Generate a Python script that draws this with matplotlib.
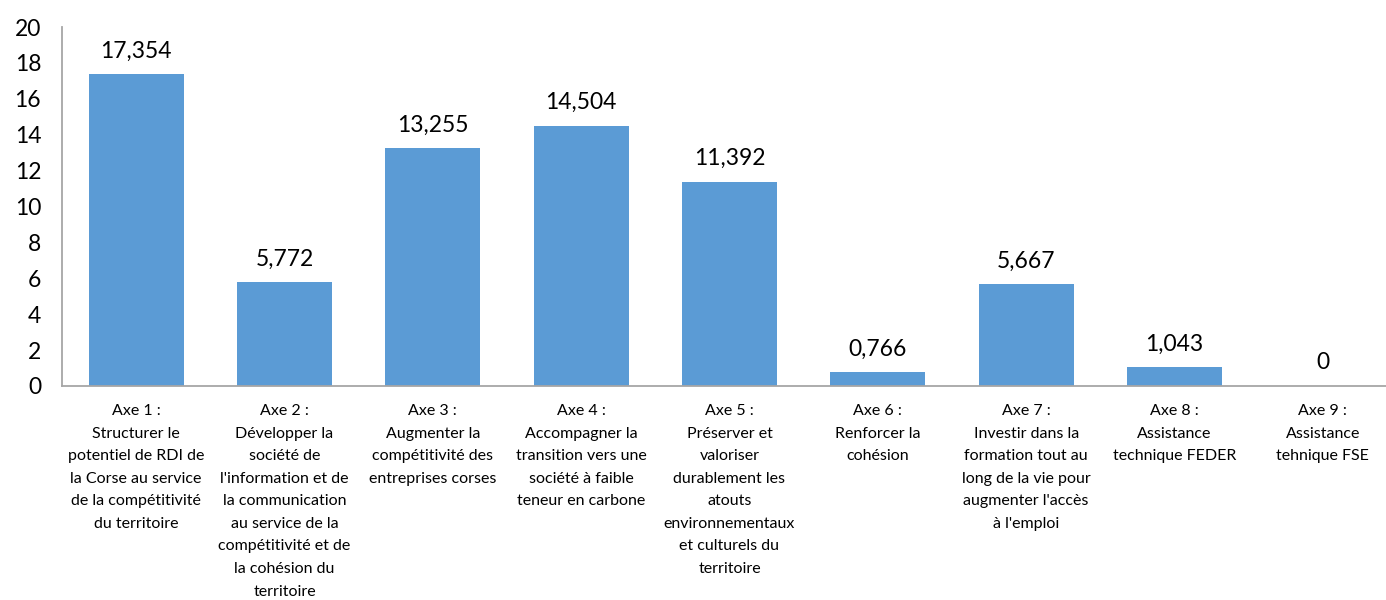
import matplotlib
matplotlib.use("Agg")
import matplotlib.pyplot as plt

categories = [
    "Axe 1 :\nStructurer le\npotentiel de RDI de\nla Corse au service\nde la compétitivité\ndu territoire",
    "Axe 2 :\nDévelopper la\nsociété de\nl'information et de\nla communication\nau service de la\ncompétitivité et de\nla cohésion du\nterritoire",
    "Axe 3 :\nAugmenter la\ncompétitivité des\nentreprises corses",
    "Axe 4 :\nAccompagner la\ntransition vers une\nsociété à faible\nteneur en carbone",
    "Axe 5 :\nPréserver et\nvaloriser\ndurablement les\natouts\nenvironnementaux\net culturels du\nterritoire",
    "Axe 6 :\nRenforcer la\ncohésion",
    "Axe 7 :\nInvestir dans la\nformation tout au\nlong de la vie pour\naugmenter l'accès\nà l'emploi",
    "Axe 8 :\nAssistance\ntechnique FEDER",
    "Axe 9 :\nAssistance\ntehnique FSE",
]
values = [17.354, 5.772, 13.255, 14.504, 11.392, 0.766, 5.667, 1.043, 0]
value_labels = ["17,354", "5,772", "13,255", "14,504", "11,392", "0,766", "5,667", "1,043", "0"]
yticks = [0, 2, 4, 6, 8, 10, 12, 14, 16, 18, 20]

plt.rcParams['font.family'] = ['Lato', 'DejaVu Sans']

fig = plt.figure(figsize=(13.86, 6.0), dpi=100)
ax = fig.add_axes([62/1386, 1-386/600, 1335/1386, (386-27)/600])

x = list(range(len(values)))
ax.bar(x, values, width=0.64, color='#5B9BD5')
ax.set_xlim(-0.5, len(values)-0.5)
ax.set_ylim(0, 20)
ax.set_yticks(yticks)
ax.set_yticklabels([str(t) for t in yticks], fontsize=16.5)
ax.tick_params(axis='y', length=0, pad=15)
ax.set_xticks([])

for xi, v, lab in zip(x, values, value_labels):
    ax.text(xi, v + 0.7, lab, ha='center', va='bottom', fontsize=16.5, color='#000000')

for xi, cat in zip(x, categories):
    ax.text(xi, -1.0, cat, ha='center', va='top', fontsize=11.5, linespacing=1.78,
            color='#000000')

for s in ['top', 'right']:
    ax.spines[s].set_visible(False)
for s in ['left', 'bottom']:
    ax.spines[s].set_color('#A6A6A6')
    ax.spines[s].set_linewidth(1.3)

fig.savefig('out.png', dpi=100)
